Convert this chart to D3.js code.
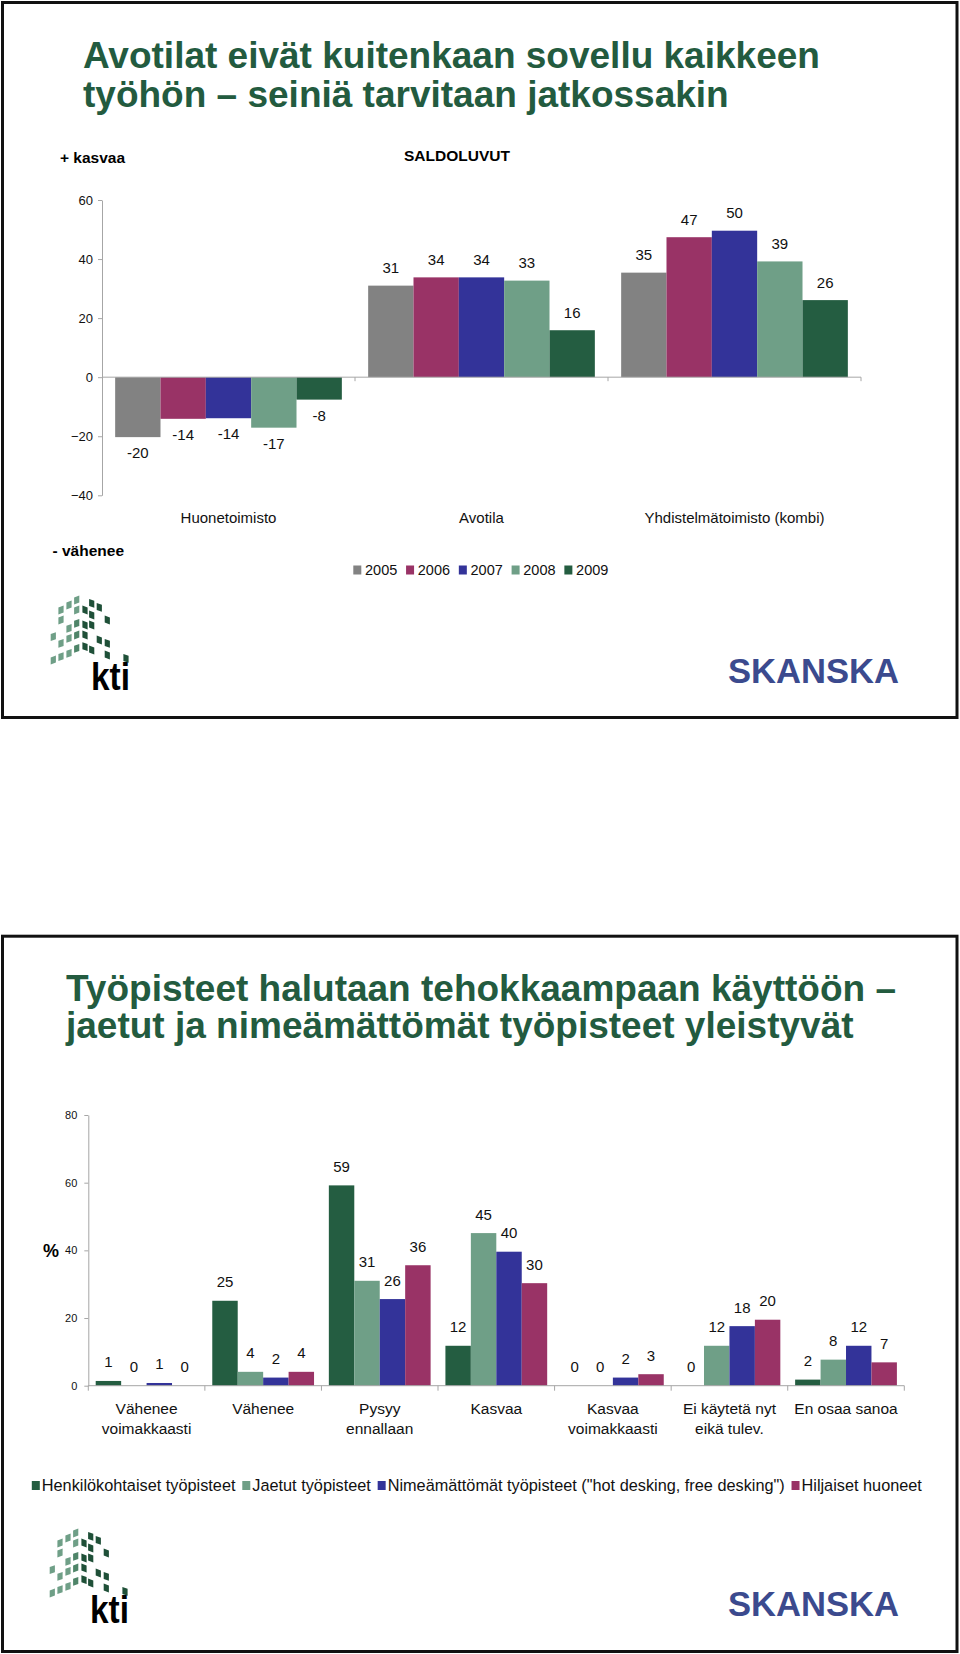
<!DOCTYPE html>
<html><head><meta charset="utf-8">
<script src="https://cdn.jsdelivr.net/npm/d3@7/dist/d3.min.js"></script>
<style>
body{margin:0;background:#fff}
svg{display:block}
text{font-family:"Liberation Sans",Arial,Helvetica,sans-serif}
</style>
</head><body>
<svg id="c" width="960" height="1654"></svg>
<script>
// ---------- Chart 1 data (saldoluvut) ----------
const officeTypes = ["Huonetoimisto", "Avotila", "Yhdistelmätoimisto (kombi)"];
const years = ["2005", "2006", "2007", "2008", "2009"];
const val2005 = [-20.3, 31.0, 35.4];
const val2006 = [-14.1, 33.8, 47.4];
const val2007 = [-13.9, 33.8, 49.6];
const val2008 = [-17.1, 32.7, 39.2];
const val2009 = [-7.6, 15.9, 26.1];
const yearColors = ["#828282", "#993366", "#333399", "#6f9f87", "#245d41"];
const ticks1 = [-40, -20, 0, 20, 40, 60];

// ---------- Chart 2 data ----------
const answers = ["Vähenee\nvoimakkaasti", "Vähenee", "Pysyy\nennallaan", "Kasvaa",
                 "Kasvaa\nvoimakkaasti", "Ei käytetä nyt\neikä tulev.", "En osaa sanoa"];
const seriesNames = ["Henkilökohtaiset työpisteet", "Jaetut työpisteet",
                     "Nimeämättömät työpisteet (\"hot desking, free desking\")", "Hiljaiset huoneet"];
const henkilokohtaiset = [1.4, 25.1, 59.2, 11.8, 0, 0, 1.8];
const jaetut = [0, 4.1, 31.0, 45.1, 0, 11.8, 7.7];
const nimeamattomat = [0.8, 2.4, 25.6, 39.6, 2.4, 17.6, 11.8];
const hiljaiset = [0, 4.1, 35.6, 30.3, 3.4, 19.5, 6.9];
const seriesColors = ["#245d41", "#6f9f87", "#333399", "#993366"];
const ticks2 = [0, 20, 40, 60, 80];

const titles1 = ["Avotilat eivät kuitenkaan sovellu kaikkeen", "työhön – seiniä tarvitaan jatkossakin"];
const titles2 = ["Työpisteet halutaan tehokkaampaan käyttöön –", "jaetut ja nimeämättömät työpisteet yleistyvät"];

const svg = d3.select("#c");
const GREEN = "#235b3f";
const AXIS = "#a6a6a6";

// Frames
svg.append("rect").attr("x", 2.5).attr("y", 2.5).attr("width", 954.5).attr("height", 715)
  .attr("fill", "none").attr("stroke", "#111").attr("stroke-width", 3);
svg.append("rect").attr("x", 2.5).attr("y", 936.2).attr("width", 954.5).attr("height", 715.3)
  .attr("fill", "none").attr("stroke", "#111").attr("stroke-width", 3);

// Titles
function title(lines, x, y0, dy) {
  lines.forEach((t, i) => svg.append("text").attr("x", x).attr("y", y0 + i * dy)
    .attr("fill", GREEN).attr("font-size", 37).attr("font-weight", "bold").text(t));
}
title(titles1, 83, 68.3, 39);
title(titles2, 66, 1001, 37);

// Logos
const tiles = [
  [3.3,39.7,0],[3.3,63,0],
  [11,13,0],[11,23,0],[11,46.3,0],[11,59.7,0],
  [19,8,0],[19,31.3,0],[19,41.3,0],[19,56.3,0],
  [26.7,3,0],[26.7,13,0],[26.7,26.3,1],[26.7,38,1],[26.7,51.3,1],
  [35,13,2],[35,28,2],[35,38,2],[35,49.7,2],
  [41.7,6.3,2],[41.7,18,2],[41.7,28,2],[41.7,53,2],
  [49.3,10.3,2],[49.3,43,2],
  [57.3,23,2],[57.3,46.3,2],[57.3,58,2],
  [76,61.3,2]
];
const tileCols = ["#6f9f87", "#4f8569", "#1f5038"];
function ktiLogo(ox, oy) {
  const g = svg.append("g").attr("transform", `translate(${ox},${oy})`);
  tiles.forEach(t => {
    const skew = t[0] < 30 ? -0.35 : 0.35;
    g.append("path")
      .attr("d", `M${t[0]-2.6},${t[1]-3.5 - skew*2.6} L${t[0]+2.6},${t[1]-3.5 + skew*2.6} L${t[0]+2.6},${t[1]+3.5 + skew*2.6} L${t[0]-2.6},${t[1]+3.5 - skew*2.6} Z`)
      .attr("fill", tileCols[t[2]]);
  });
  g.append("text").attr("x", 41).attr("y", 93).attr("font-size", 38).attr("font-weight", "bold")
    .attr("fill", "#000").attr("textLength", 39).attr("lengthAdjust", "spacingAndGlyphs").text("kti");
}
function skanska(x, y) {
  svg.append("text").attr("x", x).attr("y", y).attr("font-size", 35).attr("font-weight", "bold")
    .attr("font-family", "'DejaVu Sans', sans-serif")
    .attr("fill", "#3b4a8e").attr("textLength", 171).attr("lengthAdjust", "spacingAndGlyphs").text("SKANSKA");
}
ktiLogo(50, 597);
skanska(728, 683);
ktiLogo(49, 1530);
skanska(728, 1616);

// ================= Chart 1 =================
const yearVals = [val2005, val2006, val2007, val2008, val2009];
const x0 = d3.scaleBand().domain(officeTypes).range([102, 861]).paddingInner(0.104).paddingOuter(0.052);
const x1 = d3.scaleBand().domain(years).range([0, x0.bandwidth()]);
const y1 = d3.scaleLinear().domain([-40, 60]).range([495.3, 200]);

const g1 = svg.append("g");
g1.append("g").attr("transform", "translate(102,0)")
  .call(d3.axisLeft(y1).tickValues(ticks1).tickSize(4).tickPadding(5).tickSizeOuter(0))
  .call(a => { a.select(".domain").attr("stroke", AXIS); a.selectAll("line").attr("stroke", AXIS);
    a.selectAll("text").attr("font-size", 13).attr("font-family", "'Liberation Sans',Arial,sans-serif").attr("fill", "#111"); });

years.forEach((yr, si) => {
  g1.selectAll(null).data(officeTypes).join("rect")
    .attr("x", (c) => x0(c) + x1(yr))
    .attr("width", x1.bandwidth())
    .attr("y", (c, i) => y1(Math.max(0, yearVals[si][i])))
    .attr("height", (c, i) => Math.abs(y1(yearVals[si][i]) - y1(0)))
    .attr("fill", yearColors[si]);
  g1.selectAll(null).data(officeTypes).join("text")
    .attr("x", c => x0(c) + x1(yr) + x1.bandwidth() / 2)
    .attr("y", (c, i) => { const v = yearVals[si][i]; return v >= 0 ? y1(v) - 12.4 : y1(v) + 21; })
    .attr("text-anchor", "middle").attr("font-size", 15).attr("fill", "#111")
    .text((c, i) => Math.round(yearVals[si][i]));
});
// x axis line + ticks
const b1 = d3.range(officeTypes.length + 1).map(i => x0.range()[0] + i * x0.step());
g1.append("line").attr("x1", b1[0]).attr("x2", b1[b1.length - 1]).attr("y1", y1(0)).attr("y2", y1(0)).attr("stroke", AXIS);
g1.selectAll(null).data(b1.slice(1)).join("line")
  .attr("x1", d => d).attr("x2", d => d).attr("y1", y1(0)).attr("y2", y1(0) + 4).attr("stroke", AXIS);
g1.selectAll(null).data(officeTypes).join("text")
  .attr("x", c => x0(c) + x0.bandwidth() / 2).attr("y", 522.5)
  .attr("text-anchor", "middle").attr("font-size", 15).attr("fill", "#111").text(c => c);

svg.append("text").attr("x", 60).attr("y", 163).attr("font-size", 15.5).attr("font-weight", "bold").text("+ kasvaa");
svg.append("text").attr("x", 52.5).attr("y", 555.7).attr("font-size", 15.5).attr("font-weight", "bold").text("- vähenee");
svg.append("text").attr("x", 404).attr("y", 160.5).attr("font-size", 15.5).attr("font-weight", "bold").text("SALDOLUVUT");

// legend 1
let lx = 353.3;
years.forEach((yr, i) => {
  svg.append("rect").attr("x", lx).attr("y", 565.5).attr("width", 8).attr("height", 9).attr("fill", yearColors[i]);
  const t = svg.append("text").attr("x", lx + 11.7).attr("y", 575).attr("font-size", 14.5).attr("fill", "#111").text(yr);
  lx += 11.7 + t.node().getComputedTextLength() + 8.8;
});

// ================= Chart 2 =================
const seriesVals = [henkilokohtaiset, jaetut, nimeamattomat, hiljaiset];
const c0 = d3.scaleBand().domain(answers).range([88.3, 904.3]).paddingInner(0.127).paddingOuter(0.0635);
const c1 = d3.scaleBand().domain(seriesNames).range([0, c0.bandwidth()]);
const y2 = d3.scaleLinear().domain([0, 80]).range([1385.7, 1115]);

const g2 = svg.append("g");
g2.append("g").attr("transform", "translate(88.3,0)")
  .call(d3.axisLeft(y2).tickValues(ticks2).tickSize(4).tickPadding(7).tickSizeOuter(0))
  .call(a => { a.select(".domain").attr("stroke", AXIS); a.selectAll("line").attr("stroke", AXIS);
    a.selectAll("text").attr("font-size", 11).attr("font-family", "'Liberation Sans',Arial,sans-serif").attr("fill", "#111"); });

seriesNames.forEach((s, si) => {
  g2.selectAll(null).data(answers).join("rect")
    .attr("x", c => c0(c) + c1(s))
    .attr("width", c1.bandwidth())
    .attr("y", (c, i) => y2(seriesVals[si][i]))
    .attr("height", (c, i) => y2(0) - y2(seriesVals[si][i]))
    .attr("fill", seriesColors[si]);
  g2.selectAll(null).data(answers).join("text")
    .attr("x", c => c0(c) + c1(s) + c1.bandwidth() / 2)
    .attr("y", (c, i) => y2(seriesVals[si][i]) - 13.5)
    .attr("text-anchor", "middle").attr("font-size", 15).attr("fill", "#111")
    .text((c, i) => Math.round(seriesVals[si][i]));
});
const b2 = d3.range(answers.length + 1).map(i => c0.range()[0] + i * c0.step());
g2.append("line").attr("x1", b2[0]).attr("x2", b2[b2.length - 1]).attr("y1", y2(0)).attr("y2", y2(0)).attr("stroke", AXIS);
g2.selectAll(null).data(b2).join("line")
  .attr("x1", d => d).attr("x2", d => d).attr("y1", y2(0)).attr("y2", y2(0) + 5).attr("stroke", AXIS);
answers.forEach(c => {
  c.split("\n").forEach((ln, li) => {
    g2.append("text").attr("x", c0(c) + c0.bandwidth() / 2).attr("y", 1414 + li * 20.3)
      .attr("text-anchor", "middle").attr("font-size", 15.5).attr("fill", "#111").text(ln);
  });
});
svg.append("text").attr("x", 43).attr("y", 1257).attr("font-size", 18).attr("font-weight", "bold").text("%");

// legend 2
let lx2 = 31.8;
seriesNames.forEach((s, i) => {
  svg.append("rect").attr("x", lx2).attr("y", 1481).attr("width", 8).attr("height", 9).attr("fill", seriesColors[i]);
  const t = svg.append("text").attr("x", lx2 + 10).attr("y", 1490.5).attr("font-size", 16.3).attr("fill", "#111").text(s);
  lx2 += 10 + t.node().getComputedTextLength() + 6.8;
});
</script>
</body></html>
